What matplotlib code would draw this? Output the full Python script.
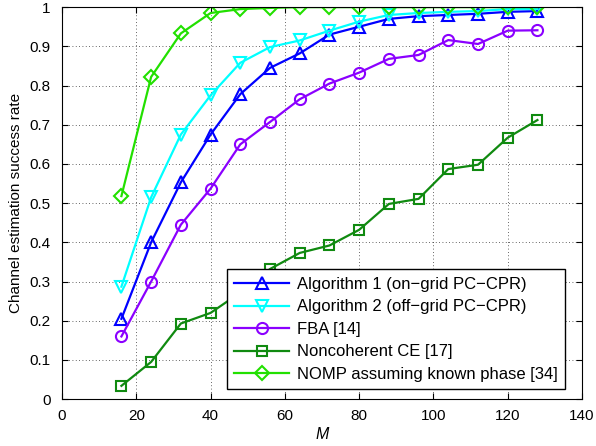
import matplotlib.pyplot as plt

plt.rcParams['font.family'] = ['Liberation Sans', 'DejaVu Sans']

M = [16, 24, 32, 40, 48, 56, 64, 72, 80, 88, 96, 104, 112, 120, 128]
alg1 = [0.205, 0.40, 0.553, 0.675, 0.778, 0.845, 0.882, 0.93, 0.95, 0.97, 0.977, 0.98, 0.983, 0.988, 0.99]
alg2 = [0.287, 0.515, 0.675, 0.775, 0.858, 0.898, 0.915, 0.94, 0.963, 0.98, 0.985, 0.988, 0.99, 0.995, 0.995]
fba = [0.16, 0.30, 0.445, 0.537, 0.65, 0.707, 0.765, 0.805, 0.833, 0.868, 0.878, 0.916, 0.906, 0.94, 0.941]
nce = [0.034, 0.095, 0.193, 0.22, 0.272, 0.332, 0.373, 0.392, 0.432, 0.498, 0.511, 0.587, 0.598, 0.667, 0.712]
nomp = [0.518, 0.822, 0.933, 0.985, 0.995, 0.998, 1.0, 1.0, 1.0, 1.0, 1.0, 1.0, 1.0, 1.0, 1.0]

labels = ["Algorithm 1 (on\u2212grid PC\u2212CPR)",
          "Algorithm 2 (off\u2212grid PC\u2212CPR)",
          "FBA [14]",
          "Noncoherent CE [17]",
          "NOMP assuming known phase [34]"]

fig = plt.figure(figsize=(5.96, 4.46), dpi=100)
ax = fig.add_axes([0.104, 0.105, 0.8725, 0.879])

kw = dict(lw=1.6, ms=8, mfc='none', mew=1.5)
ax.plot(M, alg1, color='#0000ff', marker='^', label=labels[0], **kw)
ax.plot(M, alg2, color='#00ffff', marker='v', label=labels[1], **kw)
ax.plot(M, fba, color='#8b00ff', marker='o', label=labels[2], **kw)
ax.plot(M, nce, color='#108a10', marker='s', ms=7, lw=1.6, mfc='none', mew=1.5, label=labels[3])
ax.plot(M, nomp, color='#22e000', marker='D', ms=7, lw=1.6, mfc='none', mew=1.5, label=labels[4])

ax.set_xlim(0, 140)
ax.set_ylim(0, 1)
ax.set_xticks(range(0, 141, 20))
ax.set_yticks([i / 10 for i in range(11)])
ax.set_yticklabels(["0", "0.1", "0.2", "0.3", "0.4", "0.5", "0.6", "0.7", "0.8", "0.9", "1"])
ax.tick_params(direction='in', top=True, right=True, labelsize=11, length=4)
ax.tick_params(axis='x', pad=7)
ax.tick_params(axis='y', pad=8)
ax.grid(True, linestyle=(0, (1, 3)), color='black', lw=0.6, alpha=0.8)
ax.set_xlabel("M", fontstyle='italic', fontsize=11.5, labelpad=3)
ax.set_ylabel("Channel estimation success rate", fontsize=11, labelpad=5)

leg = ax.legend(loc='lower left', bbox_to_anchor=(0.317, 0.025), borderaxespad=0,
                fancybox=False, edgecolor='black', framealpha=1, fontsize=12,
                handlelength=3.3, labelspacing=0.45, borderpad=0.45, handletextpad=0.45)
leg.get_frame().set_linewidth(1.0)

fig.savefig("out.png", dpi=100)
